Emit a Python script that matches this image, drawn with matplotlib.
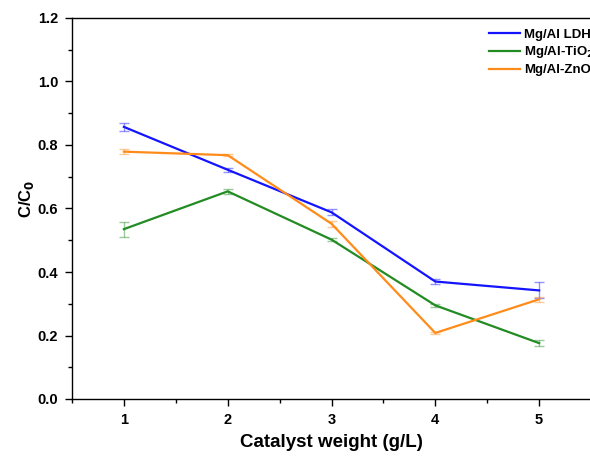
import matplotlib
matplotlib.use("Agg")
import matplotlib.pyplot as plt
from matplotlib.ticker import MultipleLocator

plt.rcParams['font.family'] = ['Liberation Sans', 'DejaVu Sans']
plt.rcParams['font.weight'] = 'bold'

weights = [1, 2, 3, 4, 5]
ldh = [0.857, 0.722, 0.588, 0.370, 0.342]
ldh_err = [0.013, 0.007, 0.010, 0.007, 0.025]
tio2 = [0.535, 0.654, 0.502, 0.295, 0.176]
tio2_err = [0.024, 0.008, 0.005, 0.005, 0.010]
zno = [0.779, 0.768, 0.552, 0.208, 0.314]
zno_err = [0.008, 0.004, 0.010, 0.004, 0.008]
labels = ['Mg/Al LDH', 'Mg/Al-TiO$_2$', 'Mg/Al-ZnO']
colors = ['#1414FF', '#228B22', '#FF8C1A']

fig = plt.figure(figsize=(5.9, 4.59), dpi=100)
ax = fig.add_axes([72/590, 60/459, 519/590, 381/459])

for y, e, c, lab in zip([ldh, tio2, zno], [ldh_err, tio2_err, zno_err], colors, labels):
    ax.plot(weights, y, color=c, lw=1.6, label=lab, zorder=3)
    ax.errorbar(weights, y, yerr=e, fmt='none', ecolor=c, alpha=0.45,
                elinewidth=1.0, capsize=3.5, capthick=1.0, zorder=2)

ax.set_xlim(0.5, 5.5)
ax.set_ylim(0, 1.2)
ax.xaxis.set_major_locator(MultipleLocator(1))
ax.xaxis.set_minor_locator(MultipleLocator(0.5))
ax.yaxis.set_major_locator(MultipleLocator(0.2))
ax.yaxis.set_minor_locator(MultipleLocator(0.1))
ax.yaxis.set_major_formatter(plt.FuncFormatter(lambda v, p: f'{v:.1f}'))
ax.tick_params(which='major', direction='out', length=5, width=1.0, labelsize=10.5, pad=5)
ax.tick_params(which='minor', direction='out', length=3, width=1.0)
for s in ax.spines.values():
    s.set_linewidth(1.0)

ax.set_xlabel('Catalyst weight (g/L)', fontsize=13.5, fontweight='bold', labelpad=5)
ax.set_ylabel('C/C$_0$', fontsize=12, fontweight='bold')
ax.yaxis.set_label_coords((36 - 72) / 519, (399 - 199) / 381)

leg = ax.legend(loc='upper left', bbox_to_anchor=(406/519, 1.0), frameon=False,
                fontsize=9.5, handlelength=2.4, handletextpad=0.3, labelspacing=0.28,
                borderaxespad=0.4)

fig.savefig('out.png', dpi=100)
